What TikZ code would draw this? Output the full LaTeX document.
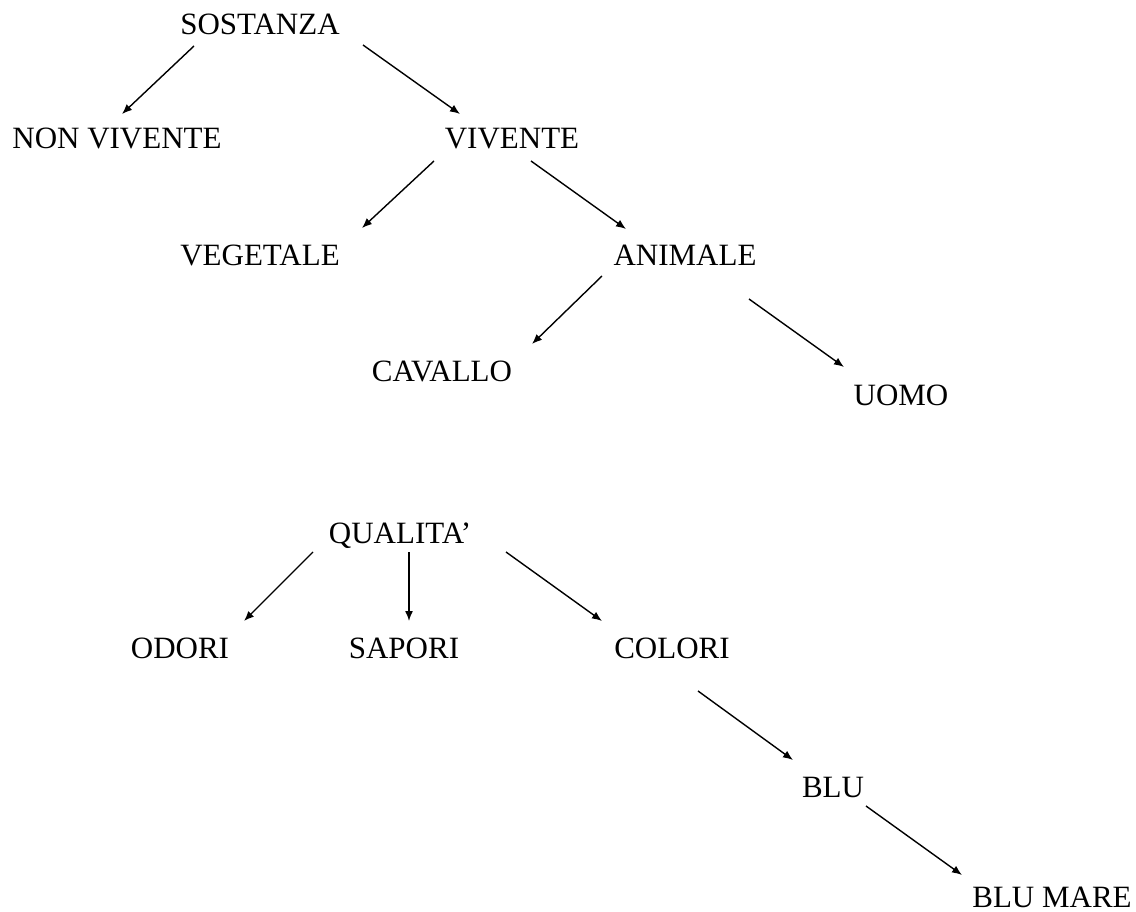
\documentclass[tikz,border=0pt]{standalone}
\usepackage{fontspec}
\setmainfont{Liberation Serif}
\usetikzlibrary{arrows.meta,calc}
\tikzset{
  lbl/.style={anchor=base,inner sep=0pt,font=\fontsize{31}{36}\selectfont},
  arr/.style={line width=1.4pt,-{Latex[length=10pt,width=8pt]}}
}
\begin{document}
\begin{tikzpicture}[x=1pt,y=-1pt]
\useasboundingbox[fill=white] (0,0) rectangle (1136,912);
\node[lbl] (sos) at (260,35) {SOSTANZA};
\node[lbl] (nv) at (117,149) {NON VIVENTE};
\node[lbl] (viv) at (512,149) {VIVENTE};
\node[lbl] (veg) at (260,266) {VEGETALE};
\node[lbl] (ani) at (685,266) {ANIMALE};
\node[lbl] (cav) at (442,381) {CAVALLO};
\node[lbl] (uomo) at (901,405) {UOMO};
\node[lbl] (qual) at (400,543) {QUALITA'};
\node[lbl] (odo) at (180,658) {ODORI};
\node[lbl] (sap) at (404,658) {SAPORI};
\node[lbl] (col) at (672,658) {COLORI};
\node[lbl] (blu) at (833,797) {BLU};
\node[lbl] (blum) at (1052,907) {BLU MARE};

\draw[arr] ($(sos.base)+(-66,11)$) -- ($(nv.base)+(5,-35)$);
\draw[arr] ($(sos.base)+(103,10)$) -- ($(viv.base)+(-52,-35)$);
\draw[arr] ($(viv.base)+(-78,12)$) -- ($(veg.base)+(102,-38)$);
\draw[arr] ($(viv.base)+(19,12)$) -- ($(ani.base)+(-59,-37)$);
\draw[arr] ($(ani.base)+(-83,10)$) -- ($(cav.base)+(90,-37)$);
\draw[arr] ($(ani.base)+(64,33)$) -- ($(uomo.base)+(-57,-38)$);
\draw[arr] ($(qual.base)+(-87,9)$) -- ($(odo.base)+(64,-37)$);
\draw[arr] ($(qual.base)+(9,9)$) -- ($(sap.base)+(5,-37)$);
\draw[arr] ($(qual.base)+(106,9)$) -- ($(col.base)+(-70,-37)$);
\draw[arr] ($(col.base)+(26,33)$) -- ($(blu.base)+(-40,-37)$);
\draw[arr] ($(blu.base)+(33,9)$) -- ($(blum.base)+(-90,-32)$);
\end{tikzpicture}
\end{document}
